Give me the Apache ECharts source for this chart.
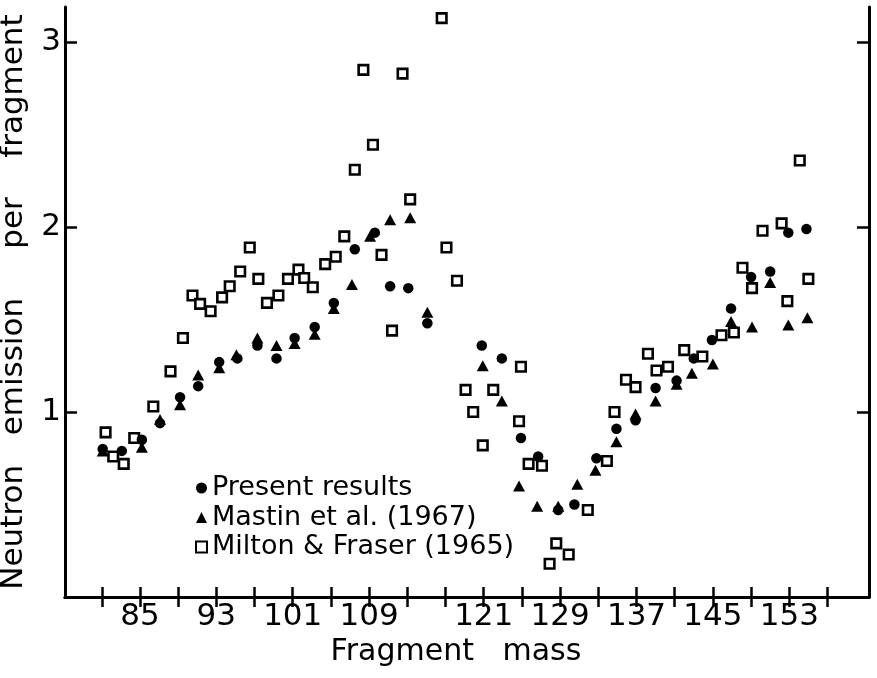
<!DOCTYPE html>
<html>
<head>
<meta charset="utf-8">
<script src="https://cdn.jsdelivr.net/npm/echarts@6/dist/echarts.min.js"></script>
<style>
html,body{margin:0;padding:0;background:#fff;}
#chart{width:877px;height:678px;}
</style>
</head>
<body>
<div id="chart"></div>
<script>
// Present results (filled circles)
const presentMass = [81.1,83.1,85.2,87.1,89.2,91.1,93.3,95.2,97.3,99.3,101.2,103.3,105.3,107.5,109.6,111.2,113.1,115.1,120.8,122.9,124.9,126.7,128.8,130.5,132.8,134.9,136.9,139.0,141.2,143.0,144.9,146.9,149.0,151.0,152.9,154.8];
const presentValue = [0.80,0.79,0.85,0.94,1.08,1.14,1.27,1.29,1.36,1.29,1.40,1.46,1.59,1.88,1.97,1.68,1.67,1.48,1.36,1.29,0.86,0.76,0.47,0.50,0.75,0.91,0.955,1.13,1.17,1.29,1.39,1.56,1.73,1.76,1.97,1.99];

// Mastin et al. (1967) (filled triangles)
const mastinMass = [81.1,85.2,87.1,89.2,91.1,93.3,95.1,97.3,99.3,101.2,103.3,105.3,107.2,109.1,111.2,113.3,115.1,120.9,122.9,124.7,126.6,128.8,130.8,132.7,134.9,136.9,139.0,141.2,142.8,145.0,146.9,149.1,151.0,152.9,154.9];
const mastinValue = [0.79,0.81,0.96,1.04,1.20,1.24,1.31,1.40,1.36,1.37,1.42,1.56,1.69,1.95,2.04,2.05,1.54,1.25,1.06,0.60,0.49,0.49,0.61,0.685,0.84,0.99,1.06,1.15,1.21,1.26,1.49,1.46,1.70,1.47,1.51];

// Milton & Fraser (1965) (open squares)
const miltonMass = [81.4,82.2,83.3,84.4,86.4,88.2,89.5,90.5,91.3,92.4,93.6,94.4,95.5,96.5,97.4,98.3,99.5,100.5,101.6,102.2,103.1,104.4,105.5,106.4,107.5,108.4,109.4,110.3,111.4,112.5,113.3,116.6,117.1,118.2,119.1,119.9,120.9,122.0,124.9,124.7,125.7,127.1,127.9,128.6,129.9,131.9,133.9,134.7,135.9,136.9,138.2,139.1,140.3,142.0,143.9,145.9,147.2,148.1,149.1,150.2,152.2,152.8,154.1,155.0];
const miltonValue = [0.89,0.76,0.72,0.86,1.03,1.22,1.40,1.63,1.585,1.545,1.62,1.68,1.76,1.89,1.72,1.59,1.63,1.72,1.77,1.725,1.675,1.80,1.84,1.95,2.31,2.85,2.445,1.85,1.44,2.83,2.15,3.13,1.89,1.71,1.12,1.00,0.82,1.12,1.245,0.95,0.72,0.71,0.18,0.29,0.23,0.47,0.735,1.00,1.175,1.135,1.315,1.225,1.245,1.335,1.30,1.415,1.43,1.78,1.67,1.98,2.02,1.60,2.36,1.72];

// Axis ticks and labels
const xTicks = [81,85,89,93,97,101,105,109,113,117,121,125,129,133,137,141,145,149,153,157];
const xLabels = [85,93,101,109,121,129,137,145,153];
const yTicks = [1,2,3];
const yLabels = [1,2,3];

const seriesNames = ['Present results', 'Mastin et al. (1967)', 'Milton & Fraser (1965)'];

function pairs(xs, ys){ return xs.map((x,i)=>[x, ys[i]]); }

const FONT = 'DejaVu Sans';
const X_MIN = 77.15, X_MAX = 161.35, Y_MIN = 0, Y_MAX = 3.19;

const chart = echarts.init(document.getElementById('chart'), null, {renderer:'canvas'});

const axisLineStyle = {show:true, lineStyle:{color:'#000', width:3}};

chart.setOption({
  backgroundColor:'#fff',
  animation:false,
  grid:{left:65, right:8, top:7, bottom:81, containLabel:false, outerBoundsMode:'none'},
  legend:{
    orient:'vertical', left:190, top:469,
    itemWidth:11, itemHeight:11, itemGap:1.5,
    textStyle:{fontFamily:FONT, fontSize:27, color:'#000', lineHeight:28},
    data:[
      {name:seriesNames[0]},
      {name:seriesNames[1]},
      {name:seriesNames[2], itemStyle:{borderWidth:2, borderColor:'#000', color:'#fff'}}
    ]
  },
  xAxis:[
    {
      type:'value', position:'bottom', min:X_MIN, max:X_MAX,
      axisLine:axisLineStyle,
      axisTick:{show:true, inside:true, length:10, lineStyle:{color:'#000', width:2.5}, customValues:xTicks},
      axisLabel:{show:true, customValues:xLabels, fontFamily:FONT, fontSize:31, color:'#000', margin:4},
      splitLine:{show:false},
      name:'Fragment   mass', nameLocation:'middle', nameGap:40,
      nameTextStyle:{fontFamily:FONT, fontSize:30, color:'#000', padding:[0,22,0,0]}
    },
    {
      type:'value', position:'top', min:X_MIN, max:X_MAX,
      axisLine:axisLineStyle,
      axisTick:{show:true, inside:true, length:10, lineStyle:{color:'#000', width:2.5}, customValues:xTicks},
      axisLabel:{show:false},
      splitLine:{show:false}
    }
  ],
  yAxis:[
    {
      type:'value', position:'left', min:Y_MIN, max:Y_MAX,
      axisLine:axisLineStyle,
      axisTick:{show:true, inside:true, length:12, lineStyle:{color:'#000', width:2.5}, customValues:yTicks},
      axisLabel:{show:true, customValues:yLabels, fontFamily:FONT, fontSize:31, color:'#000', margin:4},
      splitLine:{show:false},
      name:'Neutron   emission     per    fragment', nameLocation:'middle', nameGap:36, nameRotate:90,
      nameTextStyle:{fontFamily:FONT, fontSize:31, color:'#000'}
    },
    {
      type:'value', position:'right', min:Y_MIN, max:Y_MAX,
      axisLine:axisLineStyle,
      axisTick:{show:true, inside:true, length:12, lineStyle:{color:'#000', width:2.5}, customValues:yTicks},
      axisLabel:{show:false},
      splitLine:{show:false}
    }
  ],
  series:[
    {
      name:seriesNames[2], type:'scatter', xAxisIndex:0, yAxisIndex:0, z:2,
      symbol:'rect', symbolSize:9.5, clip:false,
      itemStyle:{color:'#fff', borderColor:'#000', borderWidth:2.6, opacity:1},
      data:pairs(miltonMass, miltonValue)
    },
    {
      name:seriesNames[1], type:'scatter', xAxisIndex:0, yAxisIndex:0, z:3,
      symbol:'triangle', symbolSize:[12,11], clip:false,
      itemStyle:{color:'#000', opacity:1},
      data:pairs(mastinMass, mastinValue)
    },
    {
      name:seriesNames[0], type:'scatter', xAxisIndex:0, yAxisIndex:0, z:4,
      symbol:'circle', symbolSize:10.5, clip:false,
      itemStyle:{color:'#000', opacity:1},
      data:pairs(presentMass, presentValue)
    }
  ]
});
</script>
</body>
</html>
